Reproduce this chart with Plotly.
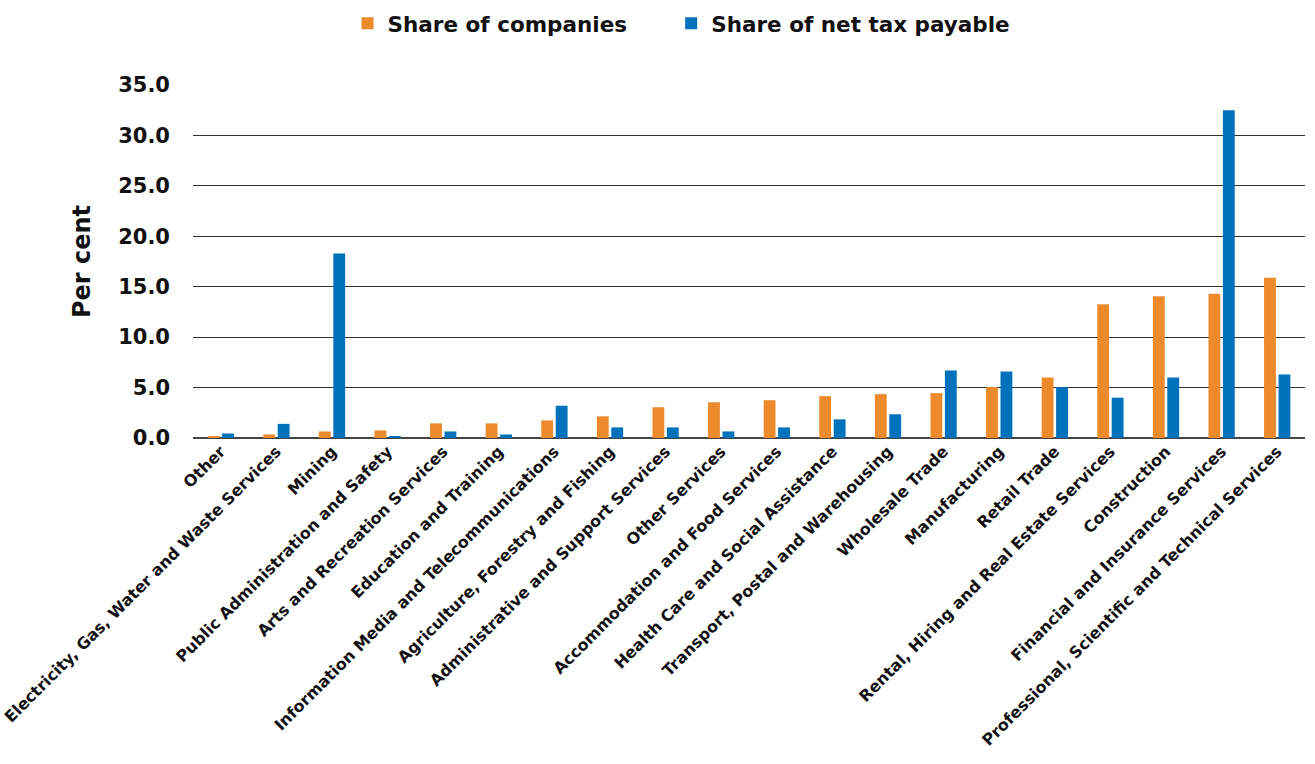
import plotly.graph_objects as go

industries = [
    "Other",
    "Electricity, Gas, Water and Waste Services",
    "Mining",
    "Public Administration and Safety",
    "Arts and Recreation Services",
    "Education and Training",
    "Information Media and Telecommunications",
    "Agriculture, Forestry and Fishing",
    "Administrative and Support Services",
    "Other Services",
    "Accommodation and Food Services",
    "Health Care and Social Assistance",
    "Transport, Postal and Warehousing",
    "Wholesale Trade",
    "Manufacturing",
    "Retail Trade",
    "Rental, Hiring and Real Estate Services",
    "Construction",
    "Financial and Insurance Services",
    "Professional, Scientific and Technical Services",
]

share_companies = [0.2, 0.35, 0.65, 0.75, 1.45, 1.45, 1.75, 2.15, 3.05, 3.55,
                   3.75, 4.15, 4.35, 4.45, 5.05, 6.0, 13.25, 14.05, 14.3, 15.9]
share_tax = [0.45, 1.4, 18.3, 0.15, 0.65, 0.35, 3.2, 1.05, 1.05, 0.65,
             1.05, 1.85, 2.35, 6.7, 6.6, 5.05, 4.0, 6.0, 32.5, 6.3]

y_ticks = [0, 5, 10, 15, 20, 25, 30, 35]

FONT = "DejaVu Sans"
legend_font = dict(size=21.5, family=FONT, weight=700)

fig = go.Figure()
fig.add_trace(go.Bar(x=industries, y=share_companies, name="Share of companies",
                     marker=dict(color="#ED8B2C", line=dict(width=0)),
                     legend="legend", showlegend=True))
fig.add_trace(go.Bar(x=industries, y=share_tax, name="Share of net tax payable",
                     marker=dict(color="#0072BC", line=dict(width=0)),
                     legend="legend2", showlegend=True))

fig.update_layout(
    width=1315, height=764,
    showlegend=True,
    margin=dict(l=193, r=10, t=85, b=326, autoexpand=False),
    paper_bgcolor="white", plot_bgcolor="white",
    barmode="group", bargap=0.48, bargroupgap=0.18,
    font=dict(family=FONT, color="#111111", weight=700),
    legend=dict(orientation="h", x=0.139, xanchor="left", y=1.175, yanchor="middle",
                font=legend_font, itemwidth=30),
    legend2=dict(orientation="h", x=0.43, xanchor="left", y=1.175, yanchor="middle",
                 font=legend_font, itemwidth=30),
    xaxis=dict(tickangle=-45, tickfont=dict(size=16, family=FONT, weight=700),
               showgrid=False, showline=False, ticks=""),
    yaxis=dict(range=[0, 35], tickvals=y_ticks, tickformat=".1f",
               tickfont=dict(size=21, family=FONT, weight=700),
               showgrid=True, gridcolor="#333333", gridwidth=1.3,
               zeroline=True, zerolinecolor="#444444", zerolinewidth=1.8,
               showline=False, ticks="", ticklabelstandoff=22,
               title=dict(text="Per cent", font=dict(size=24, family=FONT, weight=700),
                          standoff=20)),
)

fig.write_html("out.html")
